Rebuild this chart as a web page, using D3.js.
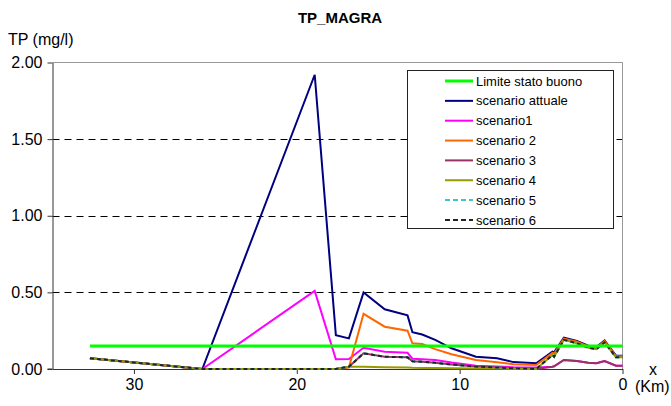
<!DOCTYPE html>
<html>
<head>
<meta charset="utf-8">
<script src="https://cdn.jsdelivr.net/npm/d3@7"></script>
<style>
  html, body { margin: 0; padding: 0; background: #fff; }
  svg { display: block; font-family: "Liberation Sans", Arial, sans-serif; }
</style>
</head>
<body>
<svg id="chart" width="671" height="406"></svg>
<script>
// Distance from the river mouth (km) at each computed section
const kmPoints = [32.7, 25.8, 18.9, 17.6, 16.8, 15.9, 14.6, 13.2, 12.9, 12.3, 11.5, 10.5, 9.0, 7.7, 6.7, 5.3, 4.3, 4.2, 3.6, 2.8, 2.1, 1.6, 1.1, 0.4, 0];

// Total phosphorus (mg/l) per scenario
const scenarioAttuale = [0.07, 0, 1.92, 0.22, 0.20, 0.50, 0.39, 0.35, 0.24, 0.225, 0.19, 0.135, 0.08, 0.07, 0.045, 0.037, 0.113, 0.109, 0.204, 0.183, 0.152, 0.143, 0.187, 0.087, 0.087];
const scenario1 = [0.07, 0, 0.51, 0.063, 0.065, 0.139, 0.113, 0.106, 0.067, 0.063, 0.059, 0.042, 0.022, 0.017, 0.012, 0.009, 0.015, 0.018, 0.059, 0.052, 0.041, 0.037, 0.052, 0.022, 0.022];
const scenario2 = [0.07, 0, 0, 0, 0.01, 0.36, 0.276, 0.25, 0.168, 0.163, 0.13, 0.096, 0.059, 0.044, 0.031, 0.026, 0.105, 0.1, 0.198, 0.178, 0.147, 0.138, 0.182, 0.083, 0.083];
const scenario3 = [0.07, 0, 0, 0, 0.015, 0.102, 0.08, 0.076, 0.05, 0.048, 0.04, 0.03, 0.016, 0.01, 0.005, 0, 0.015, 0.018, 0.059, 0.052, 0.041, 0.037, 0.052, 0.022, 0.022];
const scenario4 = [0.07, 0, 0, 0, 0.015, 0.015, 0.012, 0.01, 0.008, 0.007, 0.006, 0.005, 0.004, 0.003, 0.002, 0, 0.091, 0.08, 0.19, 0.168, 0.139, 0.13, 0.174, 0.076, 0.076];
const scenario5 = [0.07, 0, 0, 0, 0.015, 0.102, 0.08, 0.076, 0.05, 0.048, 0.04, 0.03, 0.016, 0.01, 0.005, 0, 0.091, 0.08, 0.19, 0.168, 0.139, 0.13, 0.174, 0.076, 0.076];
const scenario6 = [0.07, 0, 0, 0, 0.015, 0.102, 0.08, 0.076, 0.05, 0.048, 0.04, 0.03, 0.016, 0.01, 0.005, 0, 0.091, 0.08, 0.19, 0.168, 0.139, 0.13, 0.174, 0.076, 0.076];

// Good-status threshold
const limiteKm = [32.7, 0];
const limiteValues = [0.15, 0.15];

const seriesNames = ["Limite stato buono", "scenario attuale", "scenario1", "scenario 2", "scenario 3", "scenario 4", "scenario 5", "scenario 6"];
const yTicks = [0, 0.5, 1.0, 1.5, 2.0];
const xTicks = [30, 20, 10, 0];

const svg = d3.select("#chart");
const plotLeft = 52.5, plotRight = 622.5, plotTop = 62.5, plotBottom = 369;

const x = d3.scaleLinear().domain([35, 0]).range([plotLeft, plotRight]);
const y = d3.scaleLinear().domain([0, 2]).range([plotBottom, plotTop]);

// dashed horizontal gridlines
svg.append("g").selectAll("line")
  .data(yTicks.filter(v => v > 0 && v < 2))
  .join("line")
  .attr("x1", plotLeft).attr("x2", plotRight)
  .attr("y1", d => Math.round(y(d)) + 0.5).attr("y2", d => Math.round(y(d)) + 0.5)
  .attr("stroke", "#000").attr("stroke-width", 1).attr("stroke-dasharray", "7,5");

// plot frame (top and right)
svg.append("path")
  .attr("d", `M${plotLeft},${plotTop}H${plotRight}V${plotBottom}`)
  .attr("fill", "none").attr("stroke", "#999").attr("stroke-width", 1);

// axes
const yAxis = svg.append("g")
  .attr("transform", `translate(${plotLeft},0)`)
  .call(d3.axisLeft(y).tickValues(yTicks).tickFormat(d3.format(".2f")).tickSize(5).tickPadding(5).tickSizeOuter(0));
const xAxis = svg.append("g")
  .attr("transform", `translate(0,${plotBottom})`)
  .call(d3.axisBottom(x).tickValues(xTicks).tickFormat(d3.format("d")).tickSize(5).tickPadding(5).tickSizeOuter(0));
[yAxis, xAxis].forEach(g => {
  g.select(".domain").attr("stroke", "#333");
  g.selectAll(".tick line").attr("stroke", "#333");
  g.selectAll("text").attr("font-size", 16).attr("fill", "#000")
    .attr("font-family", "'Liberation Sans', Arial, sans-serif");
});
// extend x axis line to the left of the y axis, as the 0.00 tick
svg.append("line").attr("x1", plotLeft - 5).attr("x2", plotLeft)
  .attr("y1", plotBottom).attr("y2", plotBottom).attr("stroke", "#333");

const line = d3.line().x(d => x(d[0])).y(d => y(d[1]));
const pairs = vals => kmPoints.map((k, i) => [k, vals[i]]);

const styles = [
  { vals: scenarioAttuale, color: "#000080", dash: null },
  { vals: scenario1, color: "#ff00ff", dash: null },
  { vals: scenario2, color: "#ff6600", dash: null },
  { vals: scenario3, color: "#993366", dash: null },
  { vals: scenario4, color: "#999900", dash: null },
  { vals: scenario5, color: "#33cccc", dash: "4,3" },
  { vals: scenario6, color: "#222222", dash: "4,3" }
];

const plot = svg.append("g");
styles.forEach(s => {
  plot.append("path")
    .attr("d", line(pairs(s.vals)))
    .attr("fill", "none")
    .attr("stroke", s.color)
    .attr("stroke-width", 2)
    .attr("stroke-dasharray", s.dash);
});
// threshold line
plot.append("path")
  .attr("d", line(limiteKm.map((k, i) => [k, limiteValues[i]])))
  .attr("fill", "none").attr("stroke", "#00ff00").attr("stroke-width", 3);

// title and axis labels
svg.append("text").attr("x", 340).attr("y", 22.5).attr("text-anchor", "middle")
  .attr("font-size", 15).attr("font-weight", "bold").text("TP_MAGRA");
svg.append("text").attr("x", 8).attr("y", 45).attr("font-size", 16).text("TP (mg/l)");
svg.append("text").attr("x", 653).attr("y", 375).attr("text-anchor", "middle").attr("font-size", 16).text("x");
svg.append("text").attr("x", 635).attr("y", 392).attr("font-size", 16).text("(Km)");

// legend
const legend = svg.append("g");
legend.append("rect").attr("x", 407.5).attr("y", 70.5).attr("width", 206).attr("height", 158)
  .attr("fill", "#fff").attr("stroke", "#222").attr("stroke-width", 1);
const legendItems = [
  { color: "#00ff00", width: 3, dash: null },
  { color: "#000080", width: 2, dash: null },
  { color: "#ff00ff", width: 2, dash: null },
  { color: "#ff6600", width: 2, dash: null },
  { color: "#993366", width: 2, dash: null },
  { color: "#999900", width: 2, dash: null },
  { color: "#33cccc", width: 2, dash: "5,3" },
  { color: "#222222", width: 2, dash: "5,3" }
];
legendItems.forEach((it, i) => {
  const cy = 81 + i * 19.85;
  legend.append("line").attr("x1", 445).attr("x2", 473).attr("y1", cy).attr("y2", cy)
    .attr("stroke", it.color).attr("stroke-width", it.width).attr("stroke-dasharray", it.dash);
  legend.append("text").attr("x", 476).attr("y", cy).attr("dy", "0.35em")
    .attr("font-size", 13).text(seriesNames[i]);
});
</script>
</body>
</html>
